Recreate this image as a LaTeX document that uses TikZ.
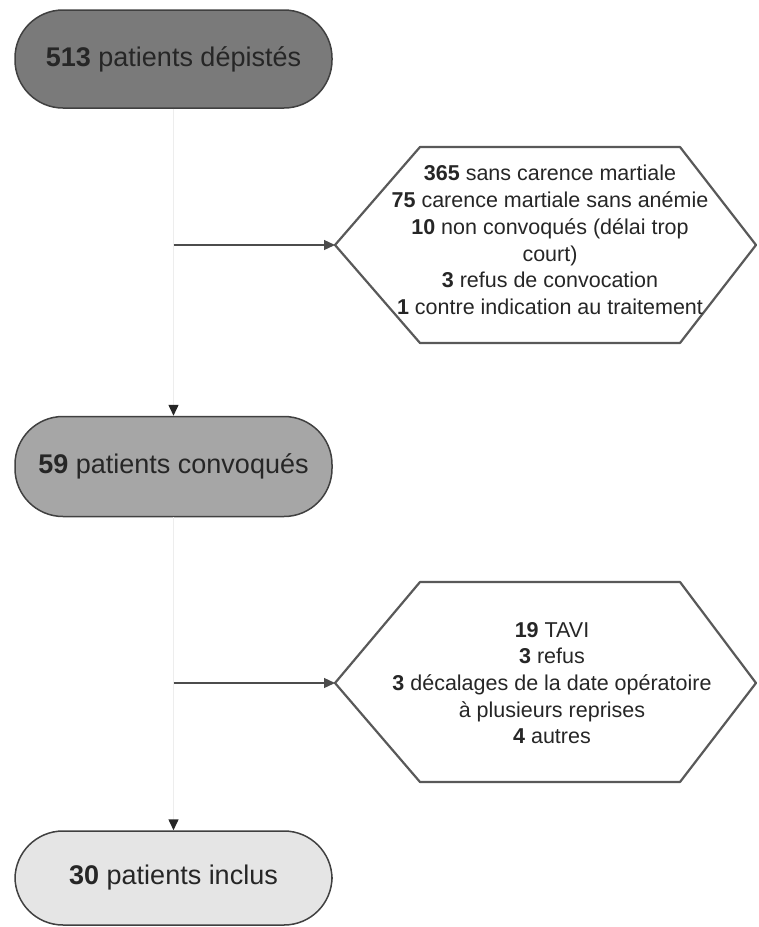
\documentclass[tikz,border=0pt]{standalone}
\usepackage{fontspec}
\setmainfont{Liberation Sans}
\usetikzlibrary{arrows.meta}
\begin{document}
\begin{tikzpicture}[x=1pt,y=-1pt,
  stadium/.style={draw=black!75, line width=1.5pt, rounded corners=48pt, minimum width=317pt, inner sep=0pt, text=black!85, font=\fontsize{27}{31}\selectfont},
  hexa/.style={draw=black!65, line width=2.2pt, fill=white, line join=round},
  hextext/.style={align=center, text=black!85, font=\fontsize{21.5}{26.7}\selectfont},
  flow/.style={draw=black!7, line width=1.5pt, -{Triangle[length=11pt,width=10pt,color=black!85]}},
  side/.style={draw=black!70, line width=1.3pt, -{Triangle[length=11pt,width=10pt]}}]
\useasboundingbox (0,0) rectangle (759,927);

\node[stadium, fill=black!52, minimum height=98pt] (s1) at (173.5,59) {\textbf{513} patients dépistés};
\node[stadium, fill=black!35, minimum height=100pt] (s2) at (173.5,466.5) {\textbf{59} patients convoqués};
\node[stadium, fill=black!10, minimum height=94pt] (s3) at (173.5,878) {\textbf{30} patients inclus};

\draw[hexa] (335,245) coordinate (h1w) -- (420,147) -- (680,147) -- (756,245) -- (680,343) -- (420,343) -- cycle;
\node[hextext] (t1) at (550,240) {\textbf{365} sans carence martiale\\ \textbf{75} carence martiale sans anémie\\ \textbf{10} non convoqués (délai trop\\ court)\\ \textbf{3} refus de convocation\\ \textbf{1} contre indication au traitement};

\draw[hexa] (335,683) coordinate (h2w) -- (420,582) -- (680,582) -- (756,683) -- (680,782) -- (420,782) -- cycle;
\node[hextext] (t2) at (552,683) {\textbf{19} TAVI\\ \textbf{3} refus\\ \textbf{3} décalages de la date opératoire\\ à plusieurs reprises\\ \textbf{4} autres};

\coordinate (j1) at (173.5,245);
\coordinate (j2) at (173.5,683);

\draw[flow] (s1.south) -- (s2.north);
\draw[flow] (s2.south) -- (s3.north);
\draw[side] (j1) -- (h1w);
\draw[side] (j2) -- (h2w);
\end{tikzpicture}
\end{document}
